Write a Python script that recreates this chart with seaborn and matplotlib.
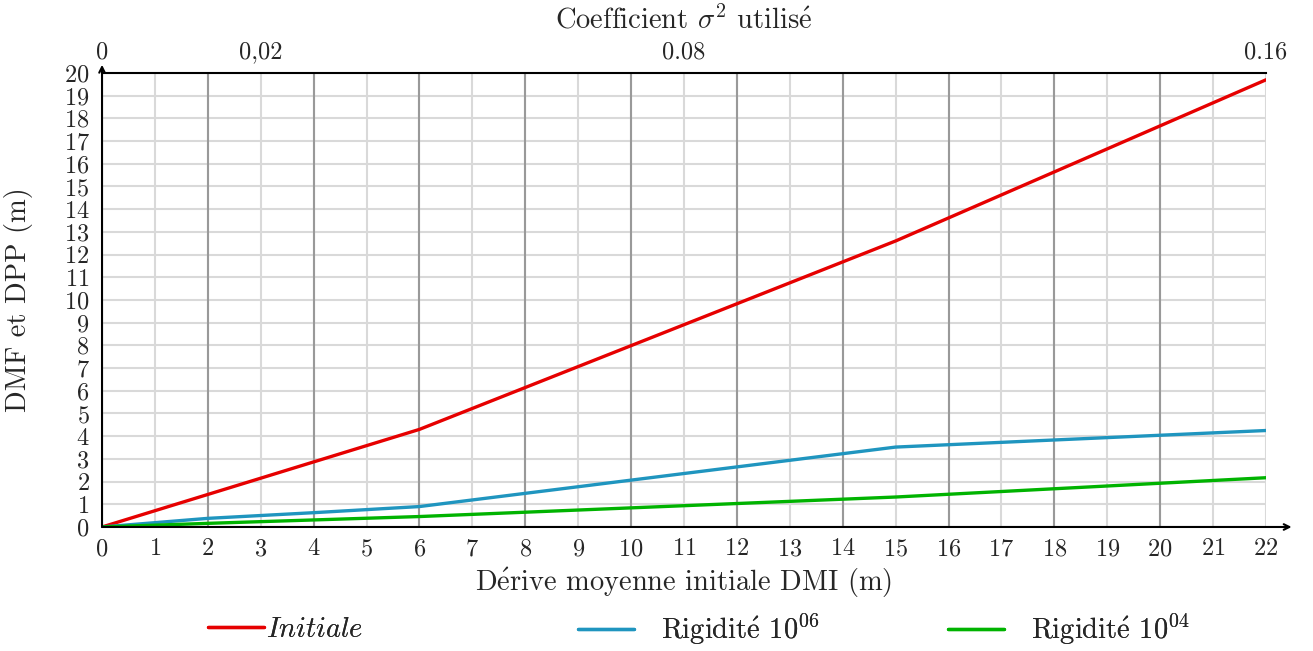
import matplotlib
matplotlib.use("Agg")
import matplotlib.pyplot as plt
import seaborn as sns
import pandas as pd

# Data
dmi_initiale = [0, 6, 15, 22]
dpp_initiale = [0, 4.3, 12.6, 19.7]
dmi_r06 = [0, 2, 4, 6, 15, 22]
dpp_r06 = [0, 0.38, 0.63, 0.9, 3.52, 4.25]
dmi_r04 = [0, 2, 6, 15, 22]
dpp_r04 = [0, 0.16, 0.46, 1.32, 2.17]

E = r"$\mathrm{\acute{e}}$"
series_names = ["$Initiale$", "Rigidit" + E + " $10^{06}$", "Rigidit" + E + " $10^{04}$"]
colors = ["#e60000", "#1f95bf", "#00b300"]

top_ticks = [0, 3, 11, 22]
top_labels = ["0", "0,02", "0.08", "0.16"]

rows = []
for name, xs, ys in zip(series_names,
                        [dmi_initiale, dmi_r06, dmi_r04],
                        [dpp_initiale, dpp_r06, dpp_r04]):
    for x, y in zip(xs, ys):
        rows.append({"DMI": x, "DPP": y, "serie": name})
df = pd.DataFrame(rows)

sns.set_style("white")
plt.rcParams['font.family'] = ['cmr10', 'DejaVu Serif']
plt.rcParams['mathtext.fontset'] = 'cm'
plt.rcParams['axes.formatter.use_mathtext'] = True

fig = plt.figure(figsize=(13.13, 6.51), dpi=100)
ax = fig.add_axes([0.0777, 0.1905, 0.8865, 0.6974])

# grid
for v in range(0, 23):
    ax.axvline(v, color="#d9d9d9", lw=1.5, zorder=0)
for v in range(2, 21, 2):
    ax.axvline(v, color="#999999", lw=1.5, zorder=0.5)
for h in range(0, 21):
    ax.axhline(h, color="#d9d9d9", lw=1.5, zorder=0)

sns.lineplot(data=df, x="DMI", y="DPP", hue="serie", palette=colors,
             hue_order=series_names, sort=False, lw=2.4, ax=ax, legend=False,
             zorder=3)

ax.set_xlim(0, 22)
ax.set_ylim(0, 20)
ax.set_xticks(range(0, 23))
ax.set_yticks(range(0, 21))
ax.tick_params(length=0, labelsize=17.5)
ax.tick_params(axis="x", pad=8)
ax.tick_params(axis="y", pad=9)
ax.set_xlabel("D" + E + "rive moyenne initiale DMI (m)", fontsize=20.5, labelpad=4)
ax.set_ylabel("DMF et DPP (m)", fontsize=20.5, labelpad=22)

ax.spines["right"].set_visible(False)
ax.spines["top"].set_color("black")
ax.spines["top"].set_linewidth(1.5)
ax.spines["left"].set_visible(False)
ax.spines["bottom"].set_visible(False)

# axis arrows
ax.annotate("", xy=(1.022, 0), xytext=(0, 0), xycoords="axes fraction",
            arrowprops=dict(arrowstyle="->", lw=1.5, color="black",
                            shrinkA=0, shrinkB=0), annotation_clip=False)
ax.annotate("", xy=(0, 1.018), xytext=(0, 0), xycoords="axes fraction",
            arrowprops=dict(arrowstyle="->", lw=1.5, color="black",
                            shrinkA=0, shrinkB=0), annotation_clip=False)

# top axis
sec = ax.secondary_xaxis("top")
sec.set_xticks(top_ticks)
sec.set_xticklabels(top_labels)
sec.tick_params(length=0, labelsize=17.5, pad=7)
sec.spines["top"].set_visible(False)
sec.set_xlabel("Coefficient $\\sigma^2$ utilis" + E, fontsize=20.5, labelpad=9)

# legend: one per entry, placed like the reference
handles = [plt.Line2D([], [], color=c, lw=2.4) for c in colors]
leg_x = [208, 578, 948]
pads = [0.1, 0.95, 0.95]
for h, name, lx, pad in zip(handles, series_names, leg_x, pads):
    lg = fig.legend([h], [name], loc="center left",
                    bbox_to_anchor=(lx / 1313, 1 - 630 / 651), frameon=False,
                    fontsize=20.5, handlelength=1.95, handletextpad=pad,
                    borderpad=0, borderaxespad=0)
    fig.add_artist(lg)

fig.savefig("out.png", dpi=100)
